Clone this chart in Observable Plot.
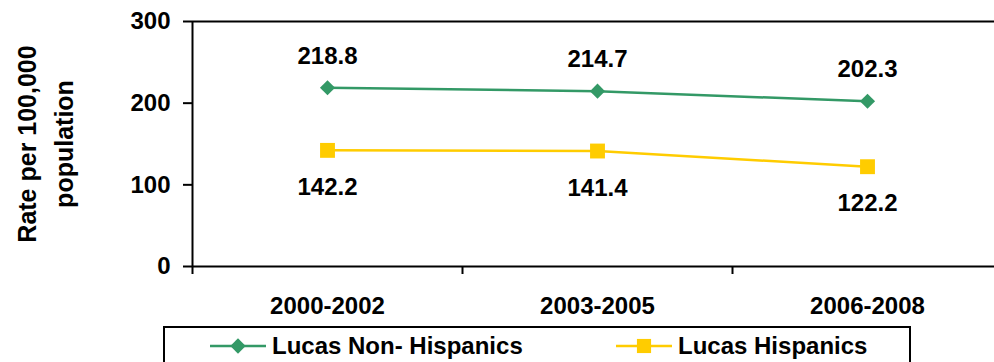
<!DOCTYPE html>
<html>
<head>
<meta charset="utf-8">
<script src="https://cdn.jsdelivr.net/npm/d3@7"></script>
<script src="https://cdn.jsdelivr.net/npm/@observablehq/plot@0.6"></script>
<style>
  html, body { margin: 0; padding: 0; background: #fff; overflow: hidden; width: 994px; height: 362px; }
  #legend { position: relative; margin-left: 163px; margin-top: 4px; width: 748px; height: 60px;
            border: 2px solid #000; box-sizing: border-box;
            font-family: "Liberation Sans", Arial, sans-serif; font-weight: bold; font-size: 24px; color: #000; }
  .item { position: absolute; top: 4px; display: flex; align-items: center; height: 28px; }
  .item svg { display: block; margin-right: 6px; }
</style>
</head>
<body>
<div id="chart"></div>
<div id="legend"></div>
<script>
const categories = ["2000-2002", "2003-2005", "2006-2008"];
const nonHispanic = [218.8, 214.7, 202.3];
const hispanic = [142.2, 141.4, 122.2];
const yTicks = [0, 100, 200, 300];
const seriesNames = ["Lucas Non- Hispanics", "Lucas Hispanics"];
const yLabel = "Rate per 100,000\npopulation";

const green = "#339966";
const yellow = "#FFCC00";
const font = "'Liberation Sans', Arial, sans-serif";

const rowsNH = categories.map((c, i) => ({i, c, v: nonHispanic[i]}));
const rowsH = categories.map((c, i) => ({i, c, v: hispanic[i]}));
const xPos = d => d.i + 0.5;
const fmt = d3.format(".1f");

const chart = Plot.plot({
  width: 994,
  height: 322,
  marginLeft: 192,
  marginTop: 21,
  marginBottom: 56,
  marginRight: 0,
  x: {type: "linear", domain: [0, categories.length], range: [192, 1002]},
  y: {domain: [0, 300], range: [266, 21]},
  style: {fontFamily: font, fontWeight: "bold", fontSize: "24px", color: "#000", background: "#fff", overflow: "visible"},
  marks: [
    Plot.ruleY([0, 300], {x1: 0, x2: categories.length, stroke: "#000", strokeWidth: 2}),
    Plot.ruleX([0], {y1: 0, y2: 300, stroke: "#000", strokeWidth: 2}),
    Plot.axisY({ticks: yTicks, tickSize: 9, tickPadding: 13, strokeWidth: 2, label: null, fontSize: 24, tickFormat: d3.format("d")}),
    Plot.axisX({ticks: d3.range(categories.length + 1), tickSize: 8, strokeWidth: 2, tickFormat: () => "", label: null}),
    Plot.axisX({ticks: categories.map((c, i) => i + 0.5), tickSize: 0, tickPadding: 30, label: null, fontSize: 24,
                tickFormat: t => categories[Math.floor(t)]}),
    Plot.text([yLabel], {frameAnchor: "left", dx: -150, rotate: -90, fontSize: 25, lineHeight: 1.5,
                         textAnchor: "middle", lineAnchor: "middle", fill: "#000"}),
    Plot.line(rowsNH, {x: xPos, y: "v", stroke: green, strokeWidth: 2.5}),
    Plot.line(rowsH, {x: xPos, y: "v", stroke: yellow, strokeWidth: 2.5}),
    Plot.dot(rowsNH, {x: xPos, y: "v", symbol: "diamond2", r: 6.8, fill: green, stroke: "none"}),
    Plot.dot(rowsH, {x: xPos, y: "v", symbol: "square", r: 8.4, fill: yellow, stroke: "none"}),
    Plot.text(rowsNH, {x: xPos, y: "v", text: d => fmt(d.v), dy: -32, fontSize: 24, fill: "#000", lineAnchor: "middle"}),
    Plot.text(rowsH, {x: xPos, y: "v", text: d => fmt(d.v), dy: 37, fontSize: 24, fill: "#000", lineAnchor: "middle"})
  ]
});
document.getElementById("chart").appendChild(chart);

// Legend
const legend = document.getElementById("legend");
const items = [
  {name: seriesNames[0], color: green, shape: "diamond", left: 45},
  {name: seriesNames[1], color: yellow, shape: "square", left: 451}
];
for (const it of items) {
  const div = document.createElement("div");
  div.className = "item";
  div.style.left = it.left + "px";
  const w = 56, h = 20;
  const svg = d3.create("svg").attr("width", w).attr("height", h);
  svg.append("line").attr("x1", 0).attr("x2", w).attr("y1", h / 2).attr("y2", h / 2)
     .attr("stroke", it.color).attr("stroke-width", 2.5);
  if (it.shape === "diamond") {
    svg.append("path").attr("d", d3.symbol(d3.symbolDiamond2, 150)()).attr("transform", `translate(${w/2},${h/2})`).attr("fill", it.color);
  } else {
    svg.append("path").attr("d", d3.symbol(d3.symbolSquare, 200)()).attr("transform", `translate(${w/2},${h/2})`).attr("fill", it.color);
  }
  div.appendChild(svg.node());
  const span = document.createElement("span");
  span.textContent = it.name;
  div.appendChild(span);
  legend.appendChild(div);
}
</script>
</body>
</html>
